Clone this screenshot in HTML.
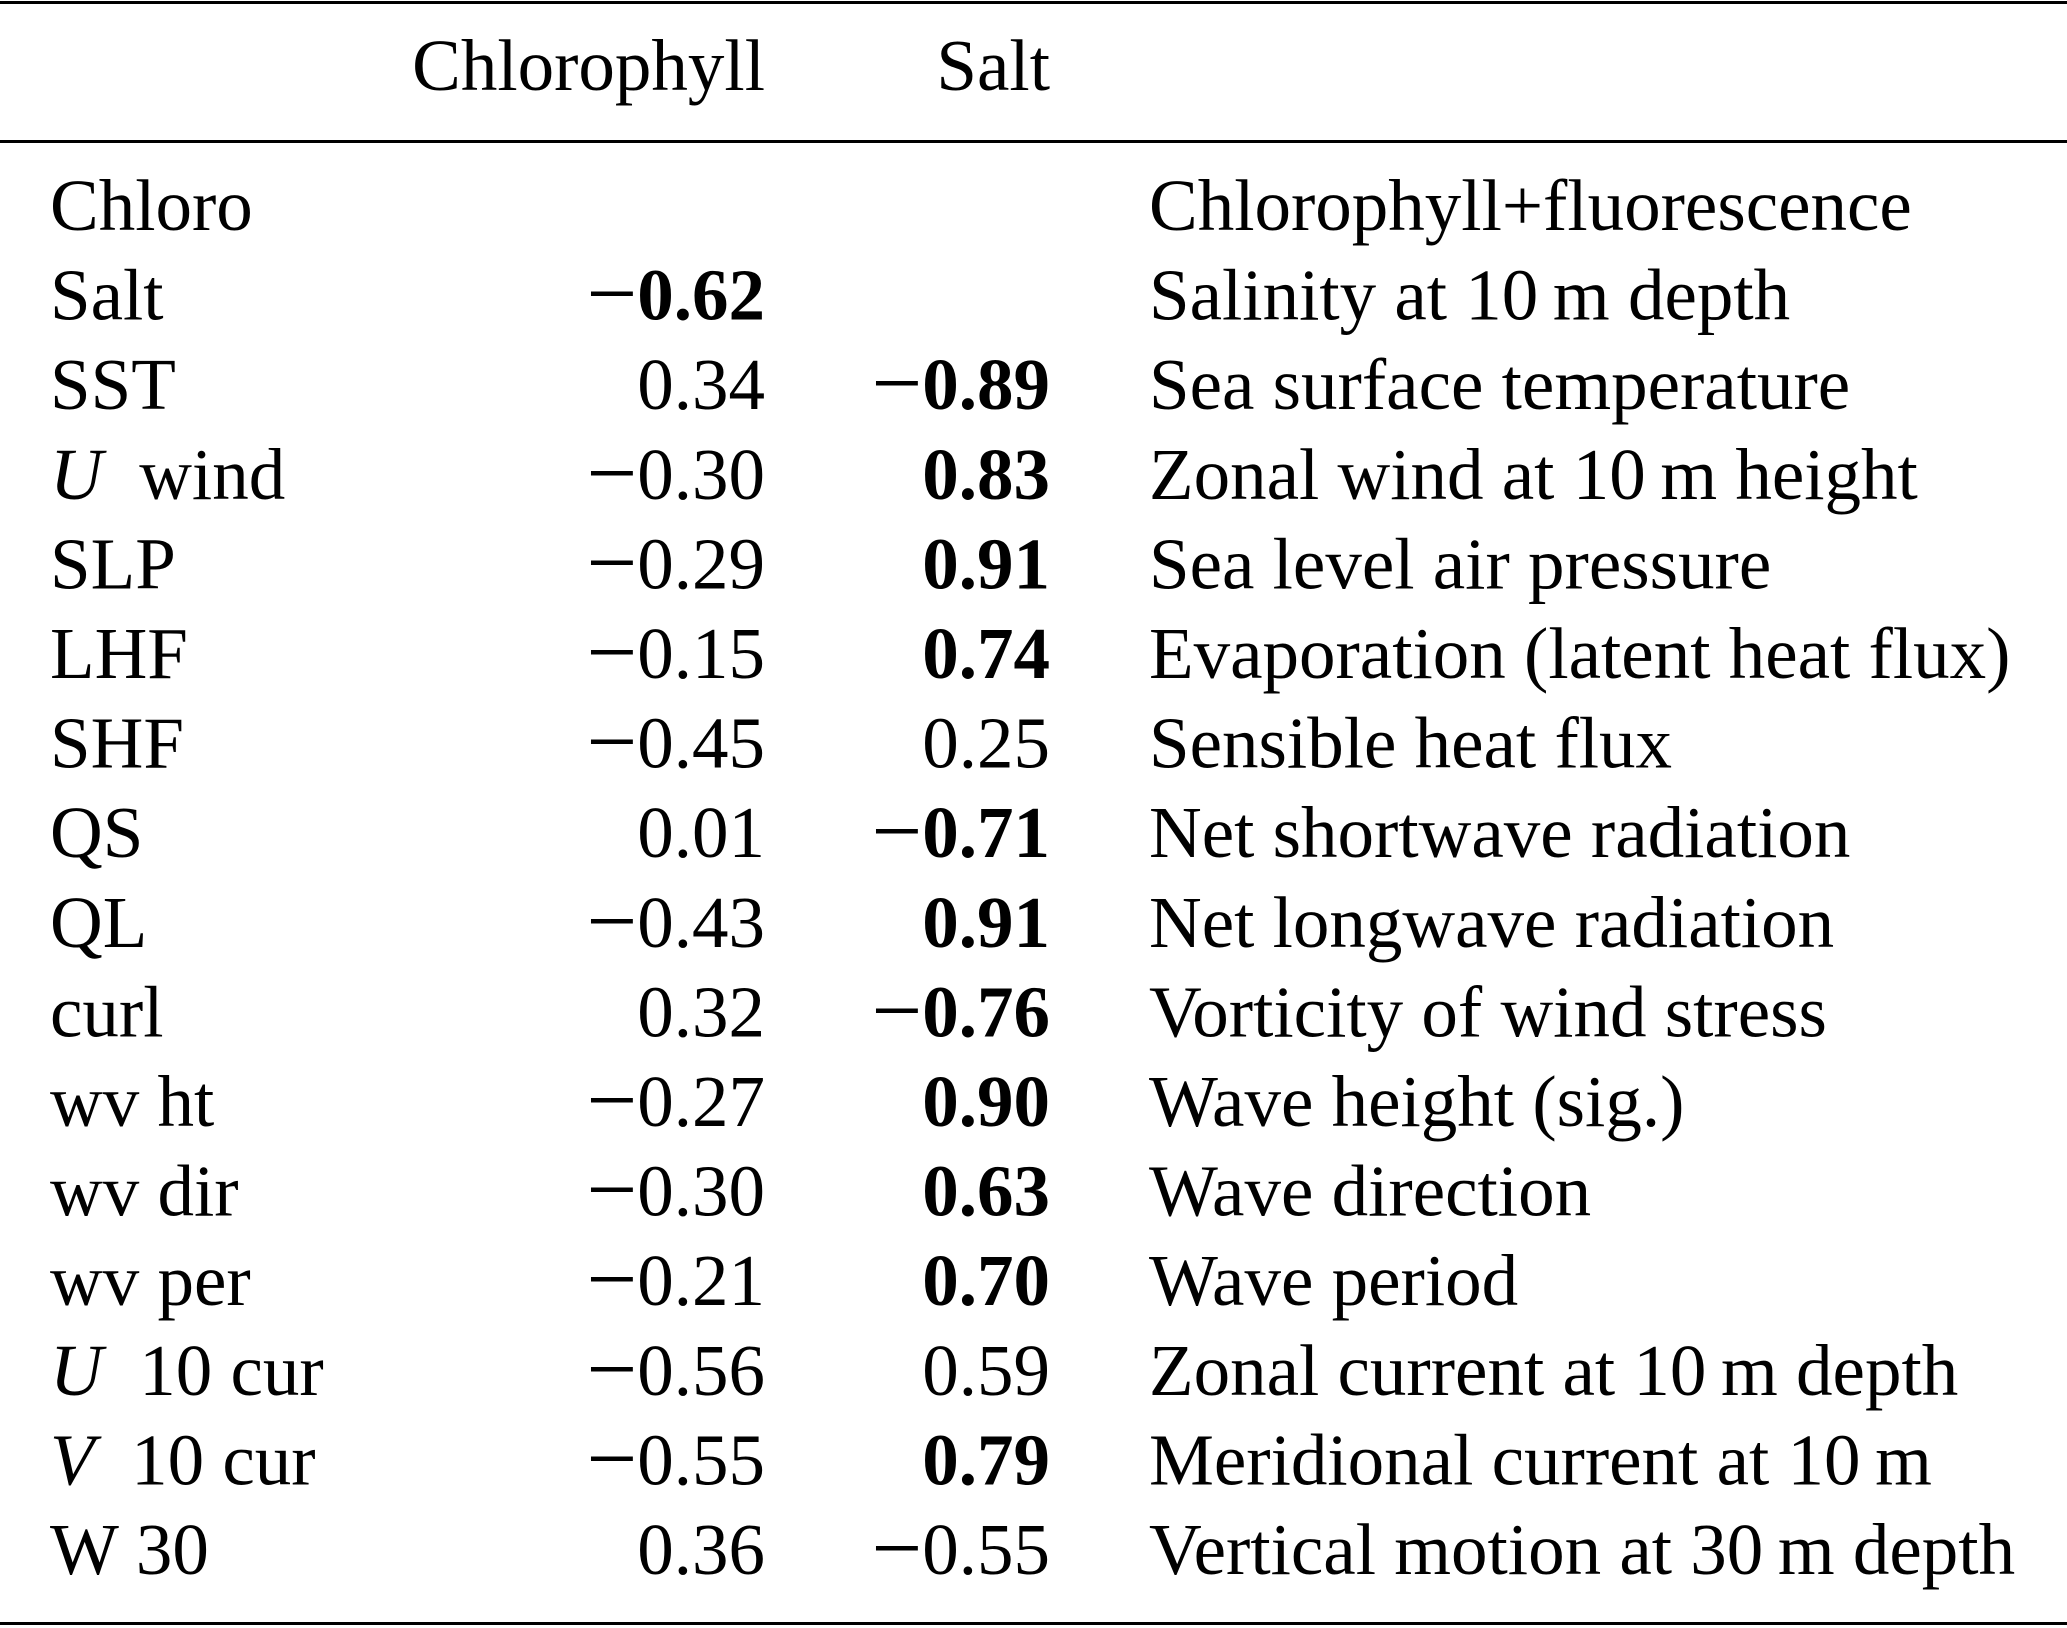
<!DOCTYPE html>
<html><head><meta charset="utf-8"><style>
html,body{margin:0;padding:0;background:#fff}
svg{display:block}
text{font-family:"Liberation Serif",serif;font-size:73px;fill:#000}
.b{font-weight:bold}
</style></head><body>
<svg width="2067" height="1628" viewBox="0 0 2067 1628">
<rect x="0" y="1" width="2067" height="3" fill="#000"/>
<rect x="0" y="140" width="2067" height="3" fill="#000"/>
<rect x="0" y="1622" width="2067" height="3" fill="#000"/>
<text x="765" y="90" text-anchor="end">Chlorophyll</text>
<text x="1050" y="90" text-anchor="end">Salt</text>
<g id="rows"></g>
</svg>
<script>
const labels=["Chloro","Salt","SST","<i>U</i>\u2005 wind","SLP","LHF","SHF","QS","QL","curl","wv ht","wv dir","wv per","<i>U</i>\u2005 10 cur","<i>V</i>\u2005 10 cur","W 30"];
const chl=["","−0.62","0.34","−0.30","−0.29","−0.15","−0.45","0.01","−0.43","0.32","−0.27","−0.30","−0.21","−0.56","−0.55","0.36"];
const chlBold=[0,1,0,0,0,0,0,0,0,0,0,0,0,0,0,0];
const salt=["","","−0.89","0.83","0.91","0.74","0.25","−0.71","0.91","−0.76","0.90","0.63","0.70","0.59","0.79","−0.55"];
const saltBold=[0,0,1,1,1,1,0,1,1,1,1,1,1,0,1,0];
const desc=["Chlorophyll+fluorescence","Salinity at 10\u2009m depth","Sea surface temperature","Zonal wind at 10\u2009m height","Sea level air pressure","Evaporation (latent heat flux)","Sensible heat flux","Net shortwave radiation","Net longwave radiation","Vorticity of wind stress","Wave height (sig.)","Wave direction","Wave period","Zonal current at 10\u2009m depth","Meridional current at 10\u2009m","Vertical motion at 30\u2009m depth"];
const g=document.getElementById('rows');
const NS="http://www.w3.org/2000/svg";
function t(x,y,anchor,html,bold){const e=document.createElementNS(NS,'text');e.setAttribute('x',x);e.setAttribute('y',y);if(anchor)e.setAttribute('text-anchor',anchor);if(bold)e.setAttribute('class','b');
const parts=html.split(/(<i>.*?<\/i>|−)/);parts.forEach(p=>{if(!p)return;const s=document.createElementNS(NS,'tspan');
if(p.startsWith('<i>')){s.setAttribute('font-style','italic');s.textContent=p.slice(3,-4);}
else if(p==='−'){s.setAttribute('font-size','90');s.setAttribute('font-weight','normal');s.setAttribute('dy','4');s.textContent='−';e.appendChild(s);const r=document.createElementNS(NS,'tspan');r.setAttribute('dy','-4');r.textContent='';s.after(r);return;}
else s.textContent=p;
const last=e.lastChild;
if(last&&last.textContent===''&&last.getAttribute('dy')){last.textContent=p;if(s.getAttribute('font-style'))last.setAttribute('font-style','italic');return;}
e.appendChild(s);});g.appendChild(e);return e;}
labels.forEach((l,i)=>{const y=230+i*89.6;
let e=t(50,y,null,l,false);


if(chl[i]){e=t(765,y,'end',chl[i],chlBold[i]);

}
if(salt[i]){e=t(1050,y,'end',salt[i],saltBold[i]);

}
e=t(1149,y,null,desc[i],false);


});
</script>
</body></html>
